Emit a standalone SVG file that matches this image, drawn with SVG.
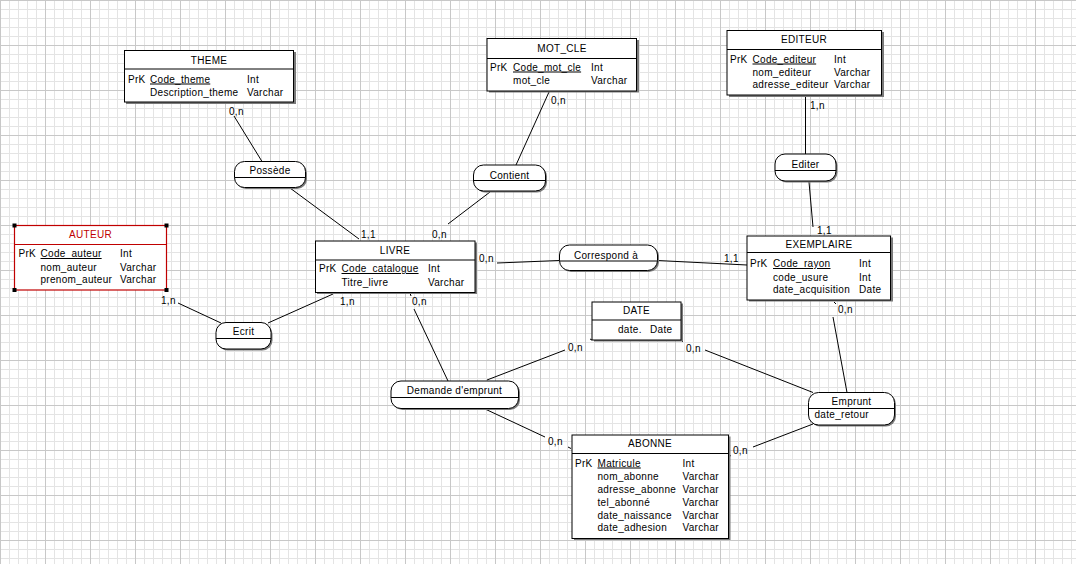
<svg xmlns="http://www.w3.org/2000/svg" width="1076" height="564" viewBox="0 0 1076 564">
<defs>
<pattern id="grid" x="0" y="0" width="45" height="45" patternUnits="userSpaceOnUse">
<rect width="45" height="45" fill="#ffffff"/>
<path d="M9.5 0V45M18.5 0V45M27.5 0V45M36.5 0V45M0 9.5H45M0 18.5H45M0 27.5H45M0 36.5H45" stroke="#e4e4e4" stroke-width="1" fill="none"/>
<path d="M0.5 0V45M0 0.5H45" stroke="#c8c8c8" stroke-width="1" fill="none"/>
</pattern>
<style>
text{font-family:"Liberation Sans",Arial,sans-serif;font-size:10px;letter-spacing:0.3px;fill:#000}
.t{text-anchor:middle}
.u{text-decoration:underline}
.box{fill:#fff;stroke:#000;stroke-width:1}
.sh{fill:#7a7a7a}
.sep{stroke:#000;stroke-width:1}
.red{fill:#fff;stroke:#c00000;stroke-width:1.2}
.redsep{stroke:#c00000;stroke-width:1}
.rt{fill:#c00000}
.cn line{stroke:#000;stroke-width:1}
</style>
</defs>
<rect width="1076" height="564" fill="url(#grid)"/>

<g id="connectors" class="cn">
<line x1="226" y1="102" x2="227" y2="104"/>
<line x1="234" y1="116" x2="262" y2="161.5"/>
<line x1="290" y1="188" x2="359" y2="239"/>
<line x1="549" y1="92" x2="516" y2="165"/>
<line x1="490" y1="192" x2="448" y2="224"/>
<line x1="805.5" y1="95" x2="805.5" y2="154"/>
<line x1="809" y1="182" x2="813" y2="227"/>
<line x1="497" y1="263" x2="559.5" y2="260.5"/>
<line x1="657.5" y1="260.5" x2="747" y2="265"/>
<line x1="834" y1="302" x2="836" y2="304"/>
<line x1="833" y1="317" x2="847" y2="392.5"/>
<line x1="410" y1="293" x2="411" y2="296"/>
<line x1="414" y1="309" x2="448" y2="381"/>
<line x1="487" y1="380" x2="565" y2="350"/>
<line x1="590" y1="339" x2="592" y2="340"/>
<line x1="681" y1="340" x2="683" y2="342"/>
<line x1="705" y1="350" x2="813" y2="392.5"/>
<line x1="484" y1="408.5" x2="545" y2="437"/>
<line x1="568" y1="447" x2="571" y2="448.5"/>
<line x1="813" y1="424" x2="753" y2="447"/>
<line x1="729" y1="455" x2="731" y2="456"/>
<line x1="268" y1="323" x2="333" y2="294"/>
<line x1="178" y1="303" x2="221" y2="323"/>
<text x="229" y="115">0,n</text>
<text x="361" y="237.5">1,1</text>
<text x="551" y="103.5">0,n</text>
<text x="432" y="237.5">0,n</text>
<text x="810" y="108.5">1,n</text>
<text x="817" y="233.5">1,1</text>
<text x="479" y="262">0,n</text>
<text x="724" y="262">1,1</text>
<text x="838" y="313">0,n</text>
<text x="412" y="305">0,n</text>
<text x="568" y="350.5">0,n</text>
<text x="686" y="352">0,n</text>
<text x="548" y="445">0,n</text>
<text x="733" y="453.5">0,n</text>
<text x="340" y="305">1,n</text>
<text x="161" y="303.5">1,n</text>
</g>

<g id="THEME">
<rect class="sh" x="126" y="52" width="170" height="52"/>
<rect class="box" x="124.5" y="50.5" width="169" height="51.5"/>
<line class="sep" x1="124.5" y1="69" x2="293.5" y2="69"/>
<text class="t" x="209" y="63.5">THEME</text>
<text x="128" y="82.5">PrK</text><text class="u" x="150" y="82.5">Code_theme</text><text x="247" y="82.5">Int</text>
<text x="150" y="95.5">Description_theme</text><text x="247" y="95.5">Varchar</text>
</g>

<g id="MOT_CLE">
<rect class="sh" x="489" y="40" width="150" height="52.5"/>
<rect class="box" x="487" y="38.5" width="149.5" height="52.5"/>
<line class="sep" x1="487" y1="58.5" x2="636.5" y2="58.5"/>
<text class="t" x="562" y="51.5">MOT_CLE</text>
<text x="490" y="70.5">PrK</text><text class="u" x="513" y="70.5">Code_mot_cle</text><text x="591" y="70.5">Int</text>
<text x="513" y="83.5">mot_cle</text><text x="591" y="83.5">Varchar</text>
</g>

<g id="EDITEUR">
<rect class="sh" x="729" y="32" width="155" height="65"/>
<rect class="box" x="727" y="30.5" width="154.5" height="64.5"/>
<line class="sep" x1="727" y1="49.5" x2="881.5" y2="49.5"/>
<text class="t" x="804" y="43">EDITEUR</text>
<text x="730" y="62.5">PrK</text><text class="u" x="752.5" y="62.5">Code_editeur</text><text x="834" y="62.5">Int</text>
<text x="752.5" y="75.5">nom_editeur</text><text x="834" y="75.5">Varchar</text>
<text x="752.5" y="88">adresse_editeur</text><text x="834" y="88">Varchar</text>
</g>

<g id="AUTEUR">
<rect class="red" x="14.5" y="225.5" width="152" height="64.5"/>
<line class="redsep" x1="14.5" y1="244.5" x2="166.5" y2="244.5"/>
<rect x="12.5" y="223.5" width="4" height="4" fill="#000"/>
<rect x="164.5" y="223.5" width="4" height="4" fill="#000"/>
<rect x="12.5" y="288" width="4" height="4" fill="#000"/>
<rect x="164.5" y="288" width="4" height="4" fill="#000"/>
<text class="t rt" x="90.5" y="237.5">AUTEUR</text>
<text x="18.5" y="257">PrK</text><text class="u" x="40.5" y="257">Code_auteur</text><text x="120" y="257">Int</text>
<text x="40.5" y="270.5">nom_auteur</text><text x="120" y="270.5">Varchar</text>
<text x="40.5" y="283">prenom_auteur</text><text x="120" y="283">Varchar</text>
</g>

<g id="LIVRE">
<rect class="sh" x="317" y="242.5" width="160" height="51.5"/>
<rect class="box" x="315.5" y="241" width="159.5" height="51.5"/>
<line class="sep" x1="315.5" y1="260" x2="475" y2="260"/>
<text class="t" x="395" y="253.5">LIVRE</text>
<text x="319" y="272">PrK</text><text class="u" x="341.5" y="272">Code_catalogue</text><text x="428" y="272">Int</text>
<text x="341.5" y="285.5">Titre_livre</text><text x="428" y="285.5">Varchar</text>
</g>

<g id="EXEMPLAIRE">
<rect class="sh" x="749" y="237.5" width="144" height="64"/>
<rect class="box" x="747" y="236" width="143.5" height="64"/>
<line class="sep" x1="747" y1="252.5" x2="890.5" y2="252.5"/>
<text class="t" x="819" y="247.5">EXEMPLAIRE</text>
<text x="750" y="267">PrK</text><text class="u" x="773" y="267">Code_rayon</text><text x="859" y="267">Int</text>
<text x="773" y="280.5">code_usure</text><text x="859" y="280.5">Int</text>
<text x="773" y="293">date_acquisition</text><text x="859" y="293">Date</text>
</g>

<g id="DATE">
<rect class="sh" x="594" y="303.5" width="89" height="38"/>
<rect class="box" x="592" y="302" width="89" height="38"/>
<line class="sep" x1="592" y1="320" x2="681" y2="320"/>
<text class="t" x="636.5" y="314">DATE</text>
<text x="618" y="333">date.</text><text x="650" y="333">Date</text>
</g>

<g id="ABONNE">
<rect class="sh" x="574" y="436.5" width="156.5" height="103.5"/>
<rect class="box" x="572" y="435" width="156.5" height="103.5"/>
<line class="sep" x1="572" y1="453.5" x2="728.5" y2="453.5"/>
<text class="t" x="650" y="447">ABONNE</text>
<text x="575" y="466.5">PrK</text><text class="u" x="597.5" y="466.5">Matricule</text><text x="682.5" y="466.5">Int</text>
<text x="597.5" y="479.5">nom_abonne</text><text x="682.5" y="479.5">Varchar</text>
<text x="597.5" y="492.5">adresse_abonne</text><text x="682.5" y="492.5">Varchar</text>
<text x="597.5" y="505.5">tel_abonné</text><text x="682.5" y="505.5">Varchar</text>
<text x="597.5" y="518.5">date_naissance</text><text x="682.5" y="518.5">Varchar</text>
<text x="597.5" y="531">date_adhesion</text><text x="682.5" y="531">Varchar</text>
</g>

<g id="Possede">
<rect class="sh" x="236" y="163" width="71" height="26" rx="10"/>
<rect class="box" x="234.5" y="161.5" width="71" height="26" rx="10"/>
<line class="sep" x1="234.5" y1="177.5" x2="305.5" y2="177.5"/>
<text class="t" x="270" y="174">Possède</text>
</g>

<g id="Contient">
<rect class="sh" x="475" y="166.5" width="72" height="26" rx="10"/>
<rect class="box" x="473.5" y="165" width="72" height="26" rx="10"/>
<line class="sep" x1="473.5" y1="180.5" x2="545.5" y2="180.5"/>
<text class="t" x="509.5" y="178.5">Contient</text>
</g>

<g id="Editer">
<rect class="sh" x="776.5" y="155.5" width="61" height="27" rx="10"/>
<rect class="box" x="775" y="154" width="61" height="27" rx="10"/>
<line class="sep" x1="775" y1="170.5" x2="836" y2="170.5"/>
<text class="t" x="805.5" y="167.5">Editer</text>
</g>

<g id="Correspond">
<rect class="sh" x="561" y="246.5" width="98" height="25.5" rx="10"/>
<rect class="box" x="559.5" y="245" width="98" height="25.5" rx="10"/>
<line class="sep" x1="559.5" y1="261" x2="657.5" y2="261"/>
<text class="t" x="606" y="258.5">Correspond à</text>
</g>

<g id="Ecrit">
<rect class="sh" x="217.5" y="324" width="55" height="26.5" rx="10"/>
<rect class="box" x="216" y="322.5" width="55" height="26.5" rx="10"/>
<line class="sep" x1="216" y1="338.5" x2="271" y2="338.5"/>
<text class="t" x="243.5" y="334.5">Ecrit</text>
</g>

<g id="Demande">
<rect class="sh" x="392.5" y="382.5" width="127.5" height="27.5" rx="10"/>
<rect class="box" x="391" y="381" width="127.5" height="27.5" rx="10"/>
<line class="sep" x1="391" y1="397.5" x2="518.5" y2="397.5"/>
<text class="t" x="454.5" y="394">Demande d'emprunt</text>
</g>

<g id="Emprunt">
<rect class="sh" x="810" y="394" width="86" height="32.5" rx="10"/>
<rect class="box" x="808.5" y="392.5" width="86" height="32.5" rx="10"/>
<line class="sep" x1="808.5" y1="408.5" x2="894.5" y2="408.5"/>
<text class="t" x="851.5" y="405">Emprunt</text>
<text x="814.5" y="418">date_retour</text>
</g>
</svg>
